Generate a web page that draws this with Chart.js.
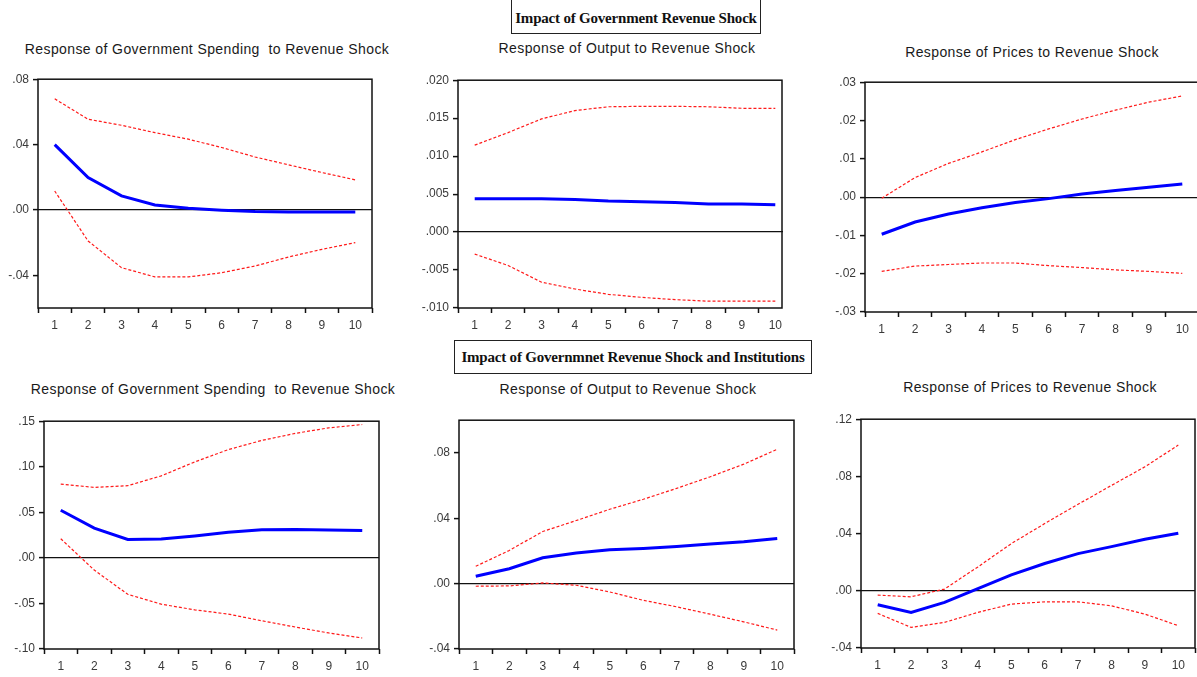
<!DOCTYPE html>
<html>
<head>
<meta charset="utf-8">
<script src="https://cdn.jsdelivr.net/npm/chart.js@4.4.0/dist/chart.umd.min.js"></script>
<style>
  html, body { margin:0; padding:0; background:#fff; }
  body { width:1197px; height:677px; position:relative; overflow:hidden; }
  .panel { position:absolute; overflow:hidden; }
  .ttl { position:absolute; font-family:"Liberation Sans", Arial, sans-serif; font-size:14px; letter-spacing:0.4px;
         color:#1a1a1a; white-space:nowrap; transform:translate(-50%,-50%); }
  .hdr { position:absolute; box-sizing:border-box; border:1.5px solid #222; font-family:"Liberation Serif", "Times New Roman", serif;
         font-weight:bold; font-size:15px; color:#111; white-space:nowrap; letter-spacing:-0.2px;
         display:flex; align-items:center; justify-content:center; }
</style>
</head>
<body>
<div class="hdr" style="left:511px;top:0px;width:250px;height:34px;border-top:none;padding-top:4px;">Impact of Government Revenue Shock</div>
<div class="hdr" style="left:454px;top:340px;width:358px;height:34px;">Impact of Governmnet Revenue Shock and Institutions</div>

<div class="ttl" style="left:207px;top:49px;">Response of Government Spending &nbsp;to Revenue Shock</div>
<div class="ttl" style="left:627px;top:48px;">Response of Output to Revenue Shock</div>
<div class="ttl" style="left:1032px;top:52px;">Response of Prices to Revenue Shock</div>
<div class="ttl" style="left:213px;top:389px;">Response of Government Spending &nbsp;to Revenue Shock</div>
<div class="ttl" style="left:628px;top:389px;">Response of Output to Revenue Shock</div>
<div class="ttl" style="left:1030px;top:387px;">Response of Prices to Revenue Shock</div>

<script>
const periods = ['1', '2', '3', '4', '5', '6', '7', '8', '9', '10'];

// Impact of Government Revenue Shock (top row)
const spendResp1  = [0.0400, 0.0198, 0.0086, 0.0030, 0.0010, -0.0002, -0.0010, -0.0012, -0.0012, -0.0012];
const spendUpper1 = [0.0680, 0.0555, 0.0518, 0.0473, 0.0433, 0.0382, 0.0324, 0.0276, 0.0229, 0.0184];
const spendLower1 = [0.0116, -0.0190, -0.0353, -0.0410, -0.0410, -0.0384, -0.0343, -0.0288, -0.0241, -0.0200];
const spendTicks1 = [-0.04, 0, 0.04, 0.08];

const outResp1  = [0.0044, 0.0044, 0.0044, 0.0043, 0.0041, 0.0040, 0.0039, 0.0037, 0.0037, 0.0036];
const outUpper1 = [0.01145, 0.0131, 0.0149, 0.0160, 0.0165, 0.01656, 0.01656, 0.0165, 0.0163, 0.0163];
const outLower1 = [-0.0029, -0.0044, -0.0066, -0.0075, -0.0082, -0.0086, -0.0089, -0.0091, -0.0091, -0.0091];
const outTicks1 = [-0.010, -0.005, 0, 0.005, 0.010, 0.015, 0.020];

const priceResp1  = [-0.0097, -0.0065, -0.0044, -0.0028, -0.0014, -0.0004, 0.0008, 0.0017, 0.0026, 0.0034];
const priceUpper1 = [-0.0003, 0.0051, 0.0088, 0.0118, 0.0150, 0.0178, 0.0204, 0.0227, 0.0248, 0.0264];
const priceLower1 = [-0.0194, -0.0180, -0.0176, -0.0172, -0.0172, -0.0179, -0.0184, -0.0190, -0.0194, -0.0199];
const priceTicks1 = [-0.03, -0.02, -0.01, 0, 0.01, 0.02, 0.03];

// Impact of Government Revenue Shock and Institutions (bottom row)
const spendResp2  = [0.0523, 0.0327, 0.0203, 0.0207, 0.0240, 0.0280, 0.0309, 0.0312, 0.0305, 0.0301];
const spendUpper2 = [0.0810, 0.0774, 0.0792, 0.0900, 0.1053, 0.1188, 0.1289, 0.1366, 0.1427, 0.1464];
const spendLower2 = [0.0210, -0.0134, -0.0400, -0.0508, -0.0570, -0.0617, -0.0690, -0.0759, -0.0824, -0.0879];
const spendTicks2 = [-0.10, -0.05, 0, 0.05, 0.10, 0.15];

const outResp2  = [0.0045, 0.0091, 0.0158, 0.0187, 0.0207, 0.0215, 0.0227, 0.0242, 0.0256, 0.0276];
const outUpper2 = [0.0106, 0.0203, 0.0319, 0.0386, 0.0455, 0.0516, 0.0583, 0.0654, 0.0731, 0.0822];
const outLower2 = [-0.0016, -0.0014, 0.0004, -0.0010, -0.0051, -0.0102, -0.0142, -0.0187, -0.0234, -0.0284];
const outTicks2 = [-0.04, 0, 0.04, 0.08];

const priceResp2  = [-0.0098, -0.0151, -0.0081, 0.0016, 0.0112, 0.0191, 0.0260, 0.0309, 0.0360, 0.0402];
const priceUpper2 = [-0.0030, -0.0042, 0.0012, 0.0167, 0.0330, 0.0470, 0.0605, 0.0737, 0.0867, 0.1019];
const priceLower2 = [-0.0158, -0.0256, -0.0221, -0.0151, -0.0093, -0.0077, -0.0077, -0.0105, -0.0163, -0.0244];
const priceTicks2 = [-0.04, 0, 0.04, 0.08, 0.12];

const fontFamily = '"Liberation Sans", Arial, sans-serif';

// box round the plot area, the right side can be moved in where the picture is cut
const framePlugin = {
  id: 'frame',
  afterDraw(chart, args, opts) {
    const a = chart.chartArea, ctx = chart.ctx;
    const right = a.right - (opts.cropRight || 0);
    ctx.save();
    ctx.strokeStyle = '#111';
    ctx.lineWidth = 1.5;
    ctx.strokeRect(a.left, a.top, right - a.left, a.bottom - a.top);
    ctx.restore();
  }
};

function fmt(v, dec) {
  const s = Math.abs(v).toFixed(dec).replace(/^0/, '');
  return (v < -1e-9 ? '-' : '') + s;
}

function makePanel(p) {
  const cw = p.r - p.l + 45, ch = p.b - p.t + 40;
  const div = document.createElement('div');
  div.className = 'panel';
  div.style.left = (p.l - 40) + 'px';
  div.style.top = (p.t - 10) + 'px';
  div.style.width = (cw - (p.cropRight ? p.cropRight + 5 - 1 : 0)) + 'px';
  div.style.height = ch + 'px';
  const cv = document.createElement('canvas');
  cv.width = cw; cv.height = ch;
  div.appendChild(cv);
  document.body.appendChild(div);

  return new Chart(cv, {
    type: 'line',
    data: {
      labels: periods,
      datasets: [
        { data: p.resp, borderColor: '#0000ff', borderWidth: 3, pointRadius: 0, tension: 0 },
        { data: p.upper, borderColor: '#ff1a1a', borderWidth: 1.2, borderDash: [3, 2], pointRadius: 0, tension: 0 },
        { data: p.lower, borderColor: '#ff1a1a', borderWidth: 1.2, borderDash: [3, 2], pointRadius: 0, tension: 0 },
      ],
    },
    options: {
      responsive: false,
      animation: false,
      layout: { padding: { top: 10, right: 5, left: 0, bottom: 0 } },
      plugins: {
        legend: { display: false },
        tooltip: { enabled: false },
        frame: { cropRight: p.cropRight || 0 },
      },
      scales: {
        x: {
          offset: true,
          grid: { offset: true, drawOnChartArea: false, tickLength: 5, tickColor: '#111', tickWidth: 1.5 },
          border: { display: false },
          ticks: { color: '#3a3a3a', font: { family: fontFamily, size: 12 }, padding: 5, maxRotation: 0, autoSkip: false },
          afterFit(s) { s.height = 30; },
        },
        y: {
          min: p.min,
          max: p.max,
          afterBuildTicks(s) { s.ticks = p.ticks.map(v => ({ value: v })); },
          grid: {
            color: c => (c.tick && Math.abs(c.tick.value) < 1e-9) ? '#111' : 'rgba(0,0,0,0)',
            lineWidth: 1.2, tickLength: 5, tickColor: '#111', tickWidth: 1.5,
          },
          border: { display: false },
          ticks: { color: '#3a3a3a', font: { family: fontFamily, size: 12 }, padding: 4, callback: v => fmt(v, p.dec) },
          afterFit(s) { s.width = 40; },
        },
      },
    },
    plugins: [framePlugin],
  });
}

makePanel({ l: 38, t: 78, r: 372, b: 308, min: -0.06, max: 0.08, ticks: spendTicks1, dec: 2,
            resp: spendResp1, upper: spendUpper1, lower: spendLower1 });
makePanel({ l: 458, t: 79, r: 792, b: 308, min: -0.010, max: 0.020, ticks: outTicks1, dec: 3, cropRight: 10,
            resp: outResp1, upper: outUpper1, lower: outLower1 });
makePanel({ l: 865, t: 81, r: 1199, b: 312, min: -0.03, max: 0.03, ticks: priceTicks1, dec: 2,
            resp: priceResp1, upper: priceUpper1, lower: priceLower1 });
makePanel({ l: 44, t: 420, r: 379, b: 649, min: -0.10, max: 0.15, ticks: spendTicks2, dec: 2,
            resp: spendResp2, upper: spendUpper2, lower: spendLower2 });
makePanel({ l: 459, t: 419, r: 794, b: 649, min: -0.04, max: 0.10, ticks: outTicks2, dec: 2,
            resp: outResp2, upper: outUpper2, lower: outLower2 });
makePanel({ l: 861, t: 418, r: 1195, b: 648, min: -0.04, max: 0.12, ticks: priceTicks2, dec: 2,
            resp: priceResp2, upper: priceUpper2, lower: priceLower2 });
</script>
</body>
</html>
